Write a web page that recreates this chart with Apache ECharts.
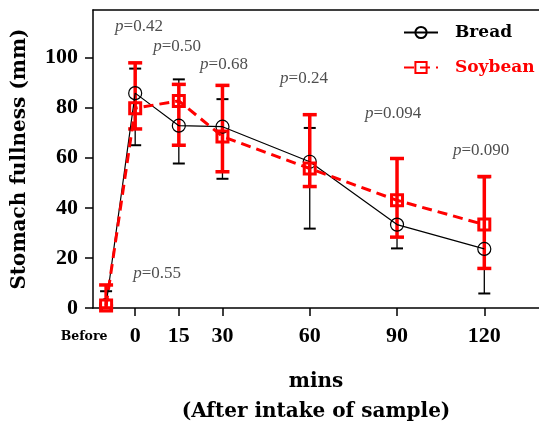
<!DOCTYPE html>
<html>
<head>
<meta charset="utf-8">
<script src="https://cdn.jsdelivr.net/npm/echarts@6/dist/echarts.min.js"></script>
<style>
html, body { margin: 0; padding: 0; background: #fff; }
#main { width: 539px; height: 432px; }
</style>
</head>
<body>
<div id="main"></div>
<script>
// minutes after intake (-10 is the "Before" sample)
var minutes = [-10, 0, 15, 30, 60, 90, 120];
var tickLabels = ['Before', '0', '15', '30', '60', '90', '120'];

var breadMean = [1.2, 85.8, 72.8, 72.4, 58.4, 33.3, 23.6];
var breadLow  = [0, 65.0, 57.7, 51.6, 31.7, 23.8, 5.8];
var breadHigh = [6.7, 95.6, 91.3, 83.4, 71.9, 59.5, 52.2];

var soyMean = [1.0, 79.8, 82.7, 68.5, 55.7, 43.0, 33.3];
var soyLow  = [0, 71.5, 65.0, 54.4, 48.5, 28.3, 15.8];
var soyHigh = [9.2, 97.9, 89.3, 88.9, 77.2, 59.7, 52.5];

// p value notes, placed in data units
var pText = ['0.42', '0.50', '0.68', '0.24', '0.094', '0.090', '0.55'];
var pX = [-6.9, 6.2, 22.3, 49.8, 79, 109.2, -0.7];
var pY = [112.3, 104.5, 97.2, 91.7, 77.5, 62.8, 13.8];

var NUMFONT = 'Liberation Serif';
var TXTFONT = 'DejaVu Serif';

function pairs(xs, ys) {
    var out = [];
    for (var i = 0; i < xs.length; i++) out.push([xs[i], ys[i]]);
    return out;
}
function triples(xs, lo, hi) {
    var out = [];
    for (var i = 0; i < xs.length; i++) out.push([xs[i], lo[i], hi[i]]);
    return out;
}

function errorBars(color, lineW, capW, capHalf) {
    return function (params, api) {
        var top = api.coord([api.value(0), api.value(2)]);
        var bot = api.coord([api.value(0), api.value(1)]);
        var st = { stroke: color, lineWidth: lineW };
        var cs = { stroke: color, lineWidth: capW };
        return {
            type: 'group',
            children: [
                { type: 'line', shape: { x1: top[0], y1: top[1], x2: bot[0], y2: bot[1] }, style: st },
                { type: 'line', shape: { x1: top[0] - capHalf, y1: top[1], x2: top[0] + capHalf, y2: top[1] }, style: cs },
                { type: 'line', shape: { x1: bot[0] - capHalf, y1: bot[1], x2: bot[0] + capHalf, y2: bot[1] }, style: cs }
            ]
        };
    };
}

var notes = [];
for (var k = 0; k < pText.length; k++) notes.push({ value: [pX[k], pY[k]], note: pText[k] });

var chart = echarts.init(document.getElementById('main'));
var option = {
    animation: false,
    backgroundColor: '#fff',
    grid: { left: 93, right: 0, top: 10, bottom: 121 },
    legend: {
        orient: 'vertical',
        left: 403,
        top: 24,
        padding: 0,
        itemWidth: 34,
        itemHeight: 14,
        itemGap: 18,
        textStyle: { fontFamily: TXTFONT, fontWeight: 'bold', fontSize: 17, padding: [0, 0, 0, 12] },
        data: [
            { name: 'Bread', textStyle: { color: '#000' } },
            { name: 'Soybean', textStyle: { color: '#ff0000' } }
        ]
    },
    xAxis: [{
        type: 'value',
        min: -14.5,
        max: 138.8,
        splitLine: { show: false },
        axisLine: { lineStyle: { color: '#000', width: 1.5 } },
        axisTick: { length: 8, lineStyle: { color: '#000', width: 1.5 }, customValues: [0, 15, 30, 60, 90, 120] },
        axisLabel: {
            customValues: minutes,
            margin: 17,
            fontFamily: NUMFONT,
            fontWeight: 'bold',
            fontSize: 22,
            color: '#000',
            formatter: function (v) {
                var i = minutes.indexOf(v);
                if (i === 0) return '{s|' + tickLabels[i] + '}';
                return tickLabels[i];
            },
            rich: { s: { fontFamily: TXTFONT, fontWeight: 'bold', fontSize: 12.5, color: '#000', padding: [5, 44, 0, 0] } }
        },
        name: 'mins\n(After intake of sample)',
        nameLocation: 'middle',
        nameGap: 59,
        nameTextStyle: { fontFamily: TXTFONT, fontWeight: 'bold', fontSize: 20, lineHeight: 30, color: '#000' }
    }, {
        type: 'value',
        position: 'top',
        min: -14.5,
        max: 138.8,
        splitLine: { show: false },
        axisLine: { lineStyle: { color: '#000', width: 1.5 } },
        axisTick: { show: false },
        axisLabel: { show: false }
    }],
    yAxis: {
        type: 'value',
        min: 0,
        max: 119,
        splitLine: { show: false },
        axisLine: { show: true, onZero: false, lineStyle: { color: '#000', width: 1.5 } },
        axisTick: { show: true, length: 8, lineStyle: { color: '#000', width: 1.5 }, customValues: [0, 20, 40, 60, 80, 100] },
        axisLabel: {
            customValues: [0, 20, 40, 60, 80, 100],
            margin: 15,
            fontFamily: NUMFONT,
            fontWeight: 'bold',
            fontSize: 22,
            color: '#000'
        },
        name: 'Stomach fullness (mm)',
        nameLocation: 'middle',
        nameGap: 63,
        nameTextStyle: { fontFamily: TXTFONT, fontWeight: 'bold', fontSize: 20, color: '#000' }
    },
    series: [
        {
            type: 'custom',
            name: 'breadErr',
            renderItem: errorBars('#000', 1.3, 2, 6),
            data: triples(minutes, breadLow, breadHigh),
            z: 1,
            silent: true
        },
        {
            type: 'custom',
            name: 'soyErr',
            renderItem: errorBars('#ff0000', 3.5, 3.5, 7),
            data: triples(minutes, soyLow, soyHigh),
            z: 2,
            silent: true
        },
        {
            type: 'line',
            name: 'Bread',
            data: pairs(minutes, breadMean),
            symbol: 'circle',
            symbolSize: 13,
            itemStyle: { color: 'rgba(255,255,255,0)', borderColor: '#000', borderWidth: 1.2 },
            lineStyle: { color: '#000', width: 1.2 },
            z: 3
        },
        {
            type: 'line',
            name: 'Soybean',
            data: pairs(minutes, soyMean),
            symbol: 'rect',
            symbolSize: 11,
            itemStyle: { color: 'rgba(255,255,255,0)', borderColor: '#ff0000', borderWidth: 3 },
            lineStyle: { color: '#ff0000', width: 3, type: [10, 6] },
            z: 4
        },
        {
            type: 'scatter',
            name: 'notes',
            symbolSize: 0,
            silent: true,
            data: notes,
            label: {
                show: true,
                position: 'right',
                distance: 0,
                formatter: function (p) { return '{i|p}{n|=' + p.data.note + '}'; },
                rich: {
                    i: { fontFamily: NUMFONT, fontStyle: 'italic', fontSize: 17, color: '#222' },
                    n: { fontFamily: NUMFONT, fontSize: 17, color: '#222' }
                }
            },
            z: 5
        }
    ]
};
chart.setOption(option);
</script>
</body>
</html>
